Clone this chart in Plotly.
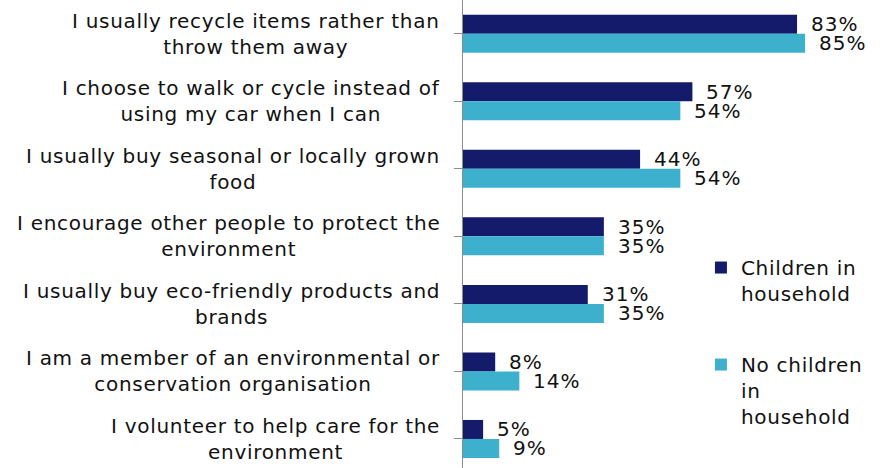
import plotly.graph_objects as go

statements = [
    "I usually recycle items rather than<br>throw them away",
    "I choose to walk or cycle instead of<br>using my car when I can",
    "I usually buy seasonal or locally grown<br>food",
    "I encourage other people to protect the<br>environment",
    "I usually buy eco-friendly products and<br>brands",
    "I am a member of an environmental or<br>conservation organisation",
    "I volunteer to help care for the<br>environment",
]
children = [83, 57, 44, 35, 31, 8, 5]
no_children = [85, 54, 54, 35, 35, 14, 9]
series_names = ["Children in<br>household", "No children<br>in<br>household"]
colors = ["#141B6B", "#3DB0CE"]

FONT = "DejaVu Sans"
cats = list(range(len(statements)))


def spaced(text, px):
    """Wrap every line of a label in a span with extra letter spacing."""
    return "<br>".join(
        f"<span style='letter-spacing:{px}px'>{line}</span>" for line in text.split("<br>")
    )


fig = go.Figure()
for name, vals, col, grp in zip(series_names, [children, no_children], colors, ["a", "b"]):
    fig.add_trace(go.Bar(
        y=cats, x=vals, name=spaced(name, 0.7), orientation="h",
        marker=dict(color=col, line=dict(width=0)),
        legendgroup=grp,
    ))

annotations = []
# category labels, centred lines, right edge next to the axis
for i, s in enumerate(statements):
    annotations.append(dict(
        xref="paper", yref="y", x=0, y=i, xanchor="right", yanchor="middle",
        xshift=-21, text=spaced(s, 0.7), align="center", showarrow=False,
        font=dict(family=FONT, size=20, color="#111111"),
    ))
# value labels beside each bar
for vals, ysh in [(children, 9.5), (no_children, -9.5)]:
    for i, v in enumerate(vals):
        annotations.append(dict(
            xref="x", yref="y", x=v, y=i, xanchor="left", yanchor="middle",
            xshift=12, yshift=ysh, text=spaced(f"{v}%", 1.0), showarrow=False,
            font=dict(family=FONT, size=20, color="#111111"),
        ))

fig.update_layout(
    width=886, height=468,
    margin=dict(l=463, r=0, t=0, b=0),
    paper_bgcolor="white", plot_bgcolor="white",
    barmode="group", bargap=0.437, bargroupgap=0,
    showlegend=True,
    legend=dict(
        x=0.5625, y=0.470, xanchor="left", yanchor="top",
        font=dict(family=FONT, size=20, color="#111111"),
        tracegroupgap=42, valign="top", itemwidth=30,
        bgcolor="rgba(0,0,0,0)",
    ),
    xaxis=dict(range=[0, 105.1], visible=False, fixedrange=True),
    yaxis=dict(
        range=[6.43, -0.5], showline=True, linecolor="#8c8c8c", linewidth=1,
        ticks="outside", tickson="boundaries", ticklen=8, tickcolor="#8c8c8c",
        showticklabels=False, showgrid=False, zeroline=False,
        tickmode="array", tickvals=cats,
    ),
    annotations=annotations,
)

fig.write_html("out.html")
